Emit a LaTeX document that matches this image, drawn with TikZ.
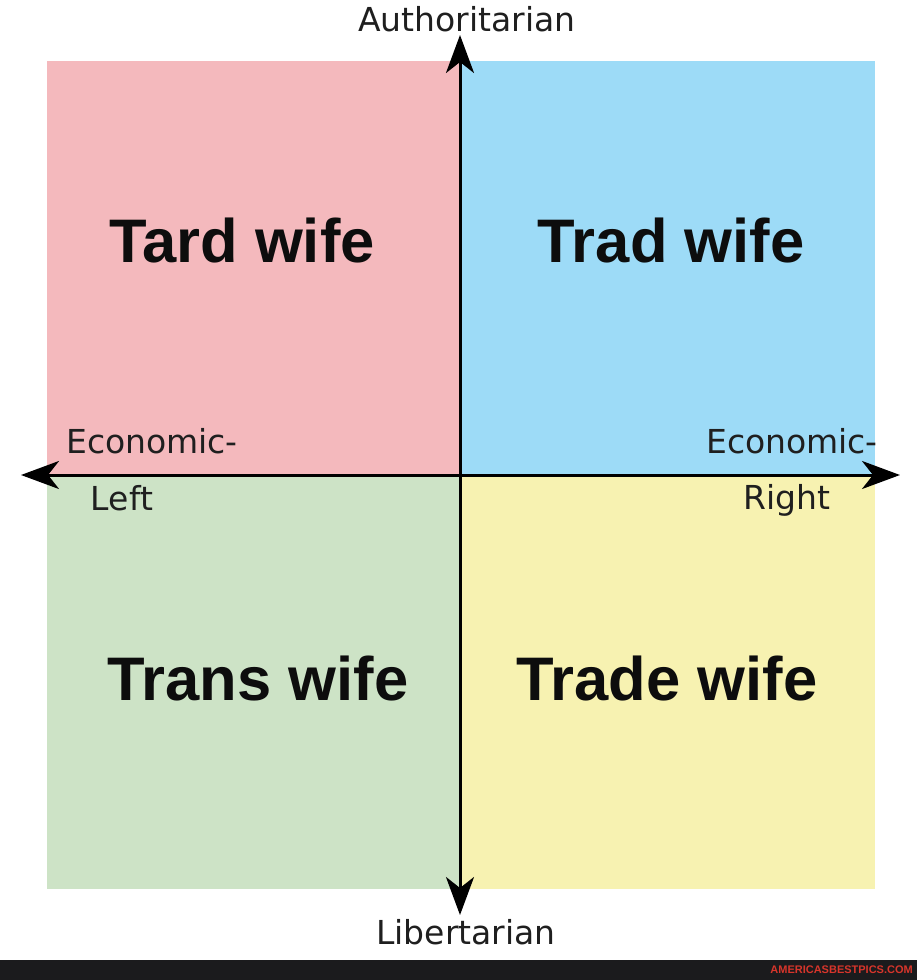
\documentclass[tikz,border=0pt]{standalone}
\usepackage{fontspec}
\setmainfont{DejaVu Sans}
\newfontfamily\bigfont{Liberation Sans}
\usetikzlibrary{arrows.meta}
\definecolor{qpink}{HTML}{F4B9BD}
\definecolor{qblue}{HTML}{9DDBF7}
\definecolor{qgreen}{HTML}{CDE3C6}
\definecolor{qyellow}{HTML}{F7F2B1}
\definecolor{barcol}{HTML}{1B1B1D}
\definecolor{redtxt}{HTML}{D8352B}
\tikzset{
  axis/.style={line width=3pt, black, -{Stealth[length=38pt,width=28pt,inset=11pt]}},
  axlabel/.style={font=\fontsize{33}{40}\selectfont, text=black!88, inner sep=0pt},
  qlabel/.style={font=\bigfont\bfseries\fontsize{61.5}{70}\selectfont, text=black!95, inner sep=0pt},
}
\begin{document}
\begin{tikzpicture}[x=1pt,y=-1pt]
\useasboundingbox (0,0) rectangle (917,980);
\fill[white] (0,0) rectangle (917,980);
% quadrants
\fill[qpink] (47,61) rectangle (460,475);
\fill[qblue] (460,61) rectangle (875,475);
\fill[qgreen] (47,475) rectangle (460,889);
\fill[qyellow] (460,475) rectangle (875,889);
% axes
\coordinate (c) at (460,475);
\coordinate (top) at (460,35);
\coordinate (bot) at (460,915);
\coordinate (lft) at (21,475);
\coordinate (rgt) at (900,475);
\draw[axis] (c) -- (top);
\draw[axis] (c) -- (bot);
\draw[axis] (c) -- (lft);
\draw[axis] (c) -- (rgt);
% quadrant labels
\node[qlabel] (tard) at (242,241) {Tard wife};
\node[qlabel] (trad) at (671,241) {Trad wife};
\node[qlabel] (trans) at (258,679) {Trans wife};
\node[qlabel] (trade) at (667,679) {Trade wife};
% axis labels
\node[axlabel] (auth) at (467,19) {Authoritarian};
\node[axlabel] (lib) at (466,932) {Libertarian};
\node[axlabel] (econl) at (152,441) {Economic-};
\node[axlabel] (left) at (122,498) {Left};
\node[axlabel] (econr) at (792,441) {Economic-};
\node[axlabel] (right) at (787,500) {Right};
% bottom bar
\fill[barcol] (0,960) rectangle (917,980);
\node[anchor=east, inner sep=0pt, text=redtxt, font=\bigfont\bfseries\fontsize{11}{12}\selectfont] (wm) at (913,970) {AMERICASBESTPICS.COM};
\end{tikzpicture}
\end{document}
